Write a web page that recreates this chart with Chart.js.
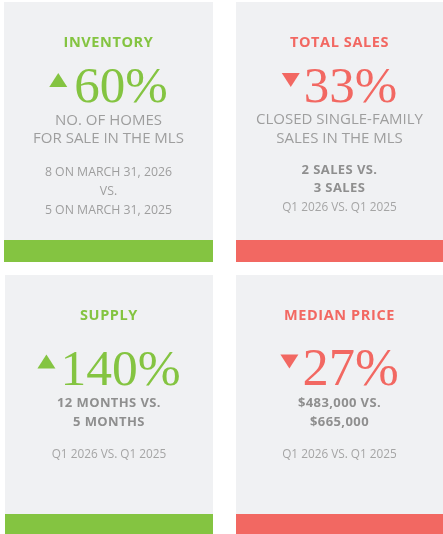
<!DOCTYPE html>
<html><head><meta charset="utf-8">
<script src="https://cdn.jsdelivr.net/npm/chart.js@4"></script>
<style>html,body{margin:0;padding:0;background:#fff}canvas{display:block}</style>
</head><body>
<canvas id="c" width="443" height="534"></canvas>
<script>
// ---- data ----
const titles = ['INVENTORY', 'TOTAL SALES', 'SUPPLY', 'MEDIAN PRICE'];
const changes = [60, -33, 140, -27];
const descriptions = [
  ['NO. OF HOMES', 'FOR SALE IN THE MLS'],
  ['CLOSED SINGLE-FAMILY', 'SALES IN THE MLS'],
  [],
  []
];
const comparisons = [
  ['8 ON MARCH 31, 2026', 'VS.', '5 ON MARCH 31, 2025'],
  ['2 SALES VS.', '3 SALES'],
  ['12 MONTHS VS.', '5 MONTHS'],
  ['$483,000 VS.', '$665,000']
];
const periods = ['', 'Q1 2026 VS. Q1 2025', 'Q1 2026 VS. Q1 2025', 'Q1 2026 VS. Q1 2025'];

// ---- styles / layout ----
const GREEN = '#84c441', RED = '#f26862', PANEL = '#f0f1f3';
const DESC = '#9e9e9e', COMP = '#8f8f8f', PER = '#a5a5a5';
const SANS = '"Open Sans", Lato, sans-serif';
const SERIF = '"Liberation Serif", "Times New Roman", serif';
const boxes = [
  {x: 4, y: 2, w: 209, h: 260, strip: 22},
  {x: 236, y: 2, w: 207, h: 260, strip: 22},
  {x: 5, y: 275, w: 208, h: 259, strip: 20},
  {x: 236, y: 275, w: 207, h: 259, strip: 20}
];
const layout = [
  {title: 41, base: 100, big: 51, gap: 7, desc: [119, 137], comp: [170, 189, 208], compBold: false, period: 0},
  {title: 41, base: 100, big: 51, gap: 4, desc: [118, 137], comp: [168, 186], compBold: true, period: 206},
  {title: 41, base: 110, big: 51.5, gap: 5, desc: [], comp: [128, 147], compBold: true, period: 180},
  {title: 41, base: 110, big: 52.5, gap: 4, desc: [], comp: [128, 147], compBold: true, period: 180}
];

function setSpacing(ctx, v) { if ('letterSpacing' in ctx) ctx.letterSpacing = v + 'px'; }

const infographic = {
  id: 'infographic',
  beforeDraw(chart) {
    const ctx = chart.ctx;
    ctx.save();
    ctx.fillStyle = '#ffffff';
    ctx.fillRect(0, 0, chart.width, chart.height);
    titles.forEach((t, i) => {
      const b = boxes[i], L = layout[i];
      const up = changes[i] >= 0;
      const col = up ? GREEN : RED;
      const cx = b.x + b.w / 2;
      ctx.fillStyle = PANEL;
      ctx.fillRect(b.x, b.y, b.w, b.h);
      ctx.fillStyle = col;
      ctx.fillRect(b.x, b.y + b.h - b.strip, b.w, b.strip);
      ctx.textBaseline = 'middle';
      ctx.textAlign = 'center';
      ctx.font = 'bold 14.5px ' + SANS;
      setSpacing(ctx, 0.6);
      ctx.fillText(t, cx, b.y + L.title);
      setSpacing(ctx, 0);
      // big number
      const num = Math.abs(changes[i]) + '%';
      ctx.font = L.big + 'px ' + SERIF;
      const w = ctx.measureText(num).width;
      const tw = 18, th = 14, gap = L.gap;
      const start = cx - (tw + gap + w) / 2;
      const base = b.y + L.base;
      const ty = base - 29 - (b.y > 100 ? 1.5 : 0);
      ctx.beginPath();
      if (up) {
        ctx.moveTo(start, ty + th); ctx.lineTo(start + tw, ty + th); ctx.lineTo(start + tw / 2, ty);
      } else {
        ctx.moveTo(start, ty); ctx.lineTo(start + tw, ty); ctx.lineTo(start + tw / 2, ty + th);
      }
      ctx.closePath();
      ctx.fill();
      ctx.textAlign = 'left';
      ctx.textBaseline = 'alphabetic';
      ctx.fillText(num, start + tw + gap, base);
      ctx.textAlign = 'center';
      ctx.textBaseline = 'middle';
      ctx.fillStyle = DESC;
      ctx.font = '15px ' + SANS;
      descriptions[i].forEach((d, k) => ctx.fillText(d, cx, b.y + L.desc[k]));
      if (L.compBold) {
        ctx.fillStyle = COMP;
        ctx.font = 'bold 13px ' + SANS;
        setSpacing(ctx, 0.4);
      } else {
        ctx.fillStyle = DESC;
        ctx.font = '12.3px ' + SANS;
      }
      comparisons[i].forEach((d, k) => ctx.fillText(d, cx, b.y + L.comp[k]));
      setSpacing(ctx, 0);
      if (periods[i]) {
        ctx.fillStyle = PER;
        ctx.font = '11.8px ' + SANS;
        ctx.fillText(periods[i], cx, b.y + L.period);
      }
    });
    ctx.restore();
  }
};

new Chart(document.getElementById('c'), {
  type: 'bar',
  data: {labels: titles, datasets: [{data: changes.map(() => null)}]},
  options: {
    responsive: false,
    animation: false,
    plugins: {legend: {display: false}, tooltip: {enabled: false}},
    scales: {x: {display: false}, y: {display: false}}
  },
  plugins: [infographic]
});
</script>
</body></html>
